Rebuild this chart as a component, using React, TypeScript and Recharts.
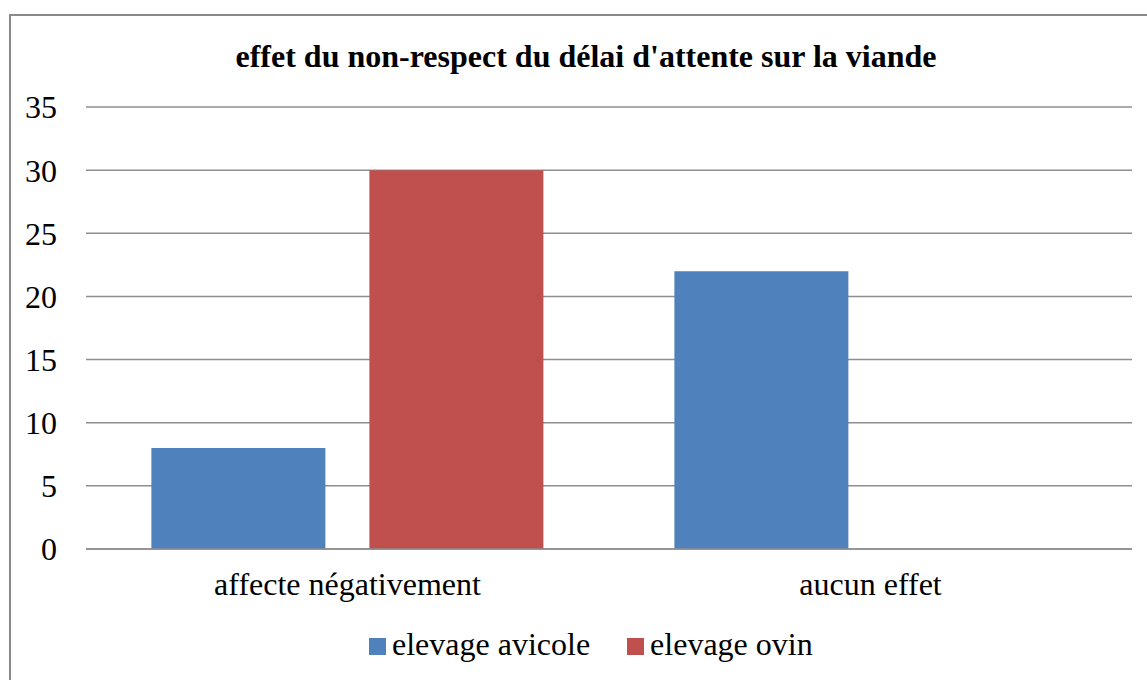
import { BarChart, Bar, XAxis, YAxis, CartesianGrid } from "recharts";

const categories = ["affecte négativement", "aucun effet"];
const avicole = [8, 22];
const ovin = [30, 0];
const yTicks = [0, 5, 10, 15, 20, 25, 30, 35];
const seriesNames = ["elevage avicole", "elevage ovin"];
const seriesColors = ["#4F81BD", "#C0504D"];

const FONT = "Tinos, 'Times New Roman', 'Liberation Serif', serif";

export default function App() {
  const data = categories.map((name, i) => ({
    name,
    avicole: avicole[i],
    ovin: ovin[i],
  }));

  return (
    <div
      style={{
        position: "absolute",
        left: 0,
        top: 0,
        width: 1147,
        height: 680,
        overflow: "hidden",
        background: "#fff",
        fontFamily: FONT,
      }}
    >
      {/* outer frame, runs off the right and bottom edge */}
      <div
        style={{
          position: "absolute",
          left: 9,
          top: 14,
          width: 1200,
          height: 720,
          border: "2px solid #8a8a8a",
          boxSizing: "border-box",
        }}
      />
      <div
        style={{
          position: "absolute",
          left: 0,
          top: 40.2,
          width: 1172,
          textAlign: "center",
          fontFamily: FONT,
          fontSize: 32,
          lineHeight: "32px",
          fontWeight: "bold",
          color: "#000",
          whiteSpace: "nowrap",
        }}
      >
        effet du non-respect du délai d'attente sur la viande
      </div>
      <div style={{ position: "absolute", left: 0, top: 0 }}>
        <BarChart
          width={1147}
          height={680}
          data={data}
          margin={{ top: 107, right: 15, left: 26, bottom: 101 }}
          barCategoryGap="12.5%"
          barGap={44}
        >
          <CartesianGrid vertical={false} stroke="#8e8e8e" strokeWidth={1.5} />
          <XAxis
            dataKey="name"
            tickLine={false}
            axisLine={{ stroke: "#8e8e8e", strokeWidth: 1.5 }}
            tickMargin={17}
            tick={{ fontSize: 32, fill: "#000", fontFamily: FONT }}
          />
          <YAxis
            width={60}
            domain={[0, 35]}
            ticks={yTicks}
            tickLine={false}
            axisLine={false}
            tickMargin={23}
            tick={{ fontSize: 32, fill: "#000", fontFamily: FONT }}
          />
          <Bar dataKey="avicole" name={seriesNames[0]} fill={seriesColors[0]} isAnimationActive={false} />
          <Bar dataKey="ovin" name={seriesNames[1]} fill={seriesColors[1]} isAnimationActive={false} />
        </BarChart>
      </div>
      <div
        style={{
          position: "absolute",
          left: 369,
          top: 628.2,
          display: "flex",
          alignItems: "flex-start",
          fontFamily: FONT,
          fontSize: 32,
          lineHeight: "32px",
          color: "#000",
          whiteSpace: "nowrap",
        }}
      >
        {seriesNames.map((s, i) => (
          <div key={s} style={{ display: "flex", alignItems: "flex-start", marginRight: 37 }}>
            <span
              style={{
                display: "inline-block",
                width: 17,
                height: 17,
                marginTop: 10,
                marginRight: 6,
                background: seriesColors[i],
              }}
            />
            <span>{s}</span>
          </div>
        ))}
      </div>
    </div>
  );
}
